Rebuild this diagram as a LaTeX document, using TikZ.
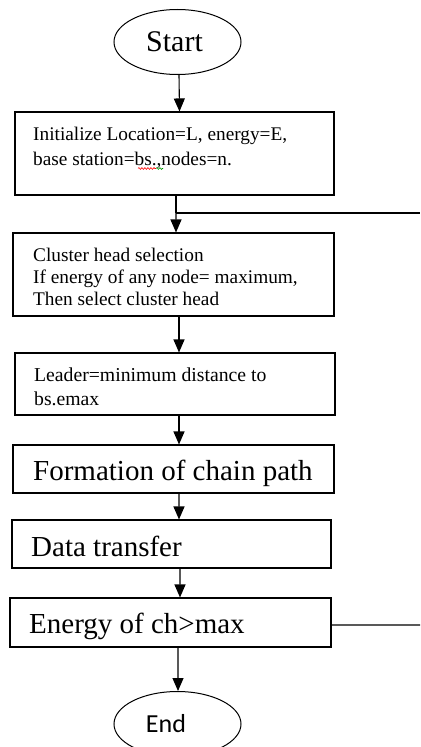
\documentclass[tikz,border=0pt]{standalone}
\usepackage{fontspec}
\setmainfont{Liberation Serif}
\newfontfamily\endfont{Carlito}
\usetikzlibrary{arrows.meta,shapes.geometric,decorations.pathmorphing}
\begin{document}
\begin{tikzpicture}[x=1bp,y=-1bp,
  box/.style={draw, line width=1.1bp, rectangle, inner sep=0pt},
  oval/.style={draw, line width=1bp, ellipse, inner sep=0pt, minimum width=127bp, minimum height=65bp},
  txt/.style={anchor=base west, inner sep=0pt},
  small/.style={font=\fontsize{19.3bp}{22bp}\selectfont},
  smallb/.style={font=\fontsize{19.7bp}{22bp}\selectfont},
  big/.style={font=\fontsize{29bp}{32bp}\selectfont},
  flow/.style={line width=1.1bp, -{Triangle[length=13bp,width=11bp]}},
  plain/.style={line width=1.1bp},
  squig/.style={line width=0.6bp, decorate, decoration={snake, amplitude=0.9bp, segment length=3bp}}]
\useasboundingbox (0,0) rectangle (420,747);
\clip (0,0) rectangle (420,747);

% start / end
\node[oval, font=\fontsize{30bp}{32bp}\selectfont] (s) at (177.5,42) {Start\hspace*{6bp}};
\node[oval, font=\endfont\fontsize{26bp}{30bp}\selectfont] (e) at (177.5,724) {End\hspace*{23bp}};

% boxes
\node[box, minimum width=319bp, minimum height=83bp] (b1) at (174.5,153.5) {};
\node[box, minimum width=321bp, minimum height=83bp] (b2) at (173.5,274.5) {};
\node[box, minimum width=320bp, minimum height=62bp] (b3) at (175,384) {};
\node[box, minimum width=321bp, minimum height=48bp] (b4) at (173.5,469) {};
\node[box, minimum width=319bp, minimum height=48bp] (b5) at (171.5,544) {};
\node[box, minimum width=321bp, minimum height=49bp] (b6) at (170.5,622.5) {};

% texts
\node[txt, small] (t1a) at (33,140) {Initialize Location=L, energy=E,};
\node[txt, small] (t1b) at (33,165) {base station=bs.,nodes=n.};
\node[txt, small] (t2a) at (33,261) {Cluster head selection};
\node[txt, small] (t2b) at (33,283) {If energy of any node= maximum,};
\node[txt, small] (t2c) at (33,305) {Then select cluster head};
\node[txt, smallb] (t3a) at (34,381) {Leader=minimum distance to};
\node[txt, smallb] (t3b) at (34,405) {bs.emax};
\node[txt, big] (t4) at (33,480) {Formation of chain path};
\node[txt, big] (t5) at (31,556) {Data transfer};
\node[txt, big] (t6) at (29,633) {Energy of ch>max};

% spell-check marks
\draw[squig, red] (138,168.5) -- (156,168.5);
\draw[squig, green!60!black] (156,168.5) -- (163,168.5);

% connectors
\coordinate (j) at (176,213);
\coordinate (lr) at (420,213);
\coordinate (lr2) at (420,625);
\draw[flow] ([xshift=1.5bp]s.south) -- ([xshift=5bp]b1.north);
\draw[plain] ([xshift=1.5bp]b1.south) -- (j);
\draw[flow] (j) -- ([xshift=2.5bp]b2.north);
\draw[plain] (j) -- (lr);
\draw[flow] ([xshift=5.5bp]b2.south) -- ([xshift=4bp]b3.north);
\draw[flow] ([xshift=4bp]b3.south) -- ([xshift=5.5bp]b4.north);
\draw[flow] ([xshift=5.5bp]b4.south) -- ([xshift=7.5bp]b5.north);
\draw[flow] ([xshift=8.5bp]b5.south) -- ([xshift=9.5bp]b6.north);
\draw[flow] ([xshift=7.5bp]b6.south) -- ([xshift=0.5bp]e.north);
\draw[plain] ([yshift=-2.5bp]b6.east) -- (lr2);
\end{tikzpicture}
\end{document}
